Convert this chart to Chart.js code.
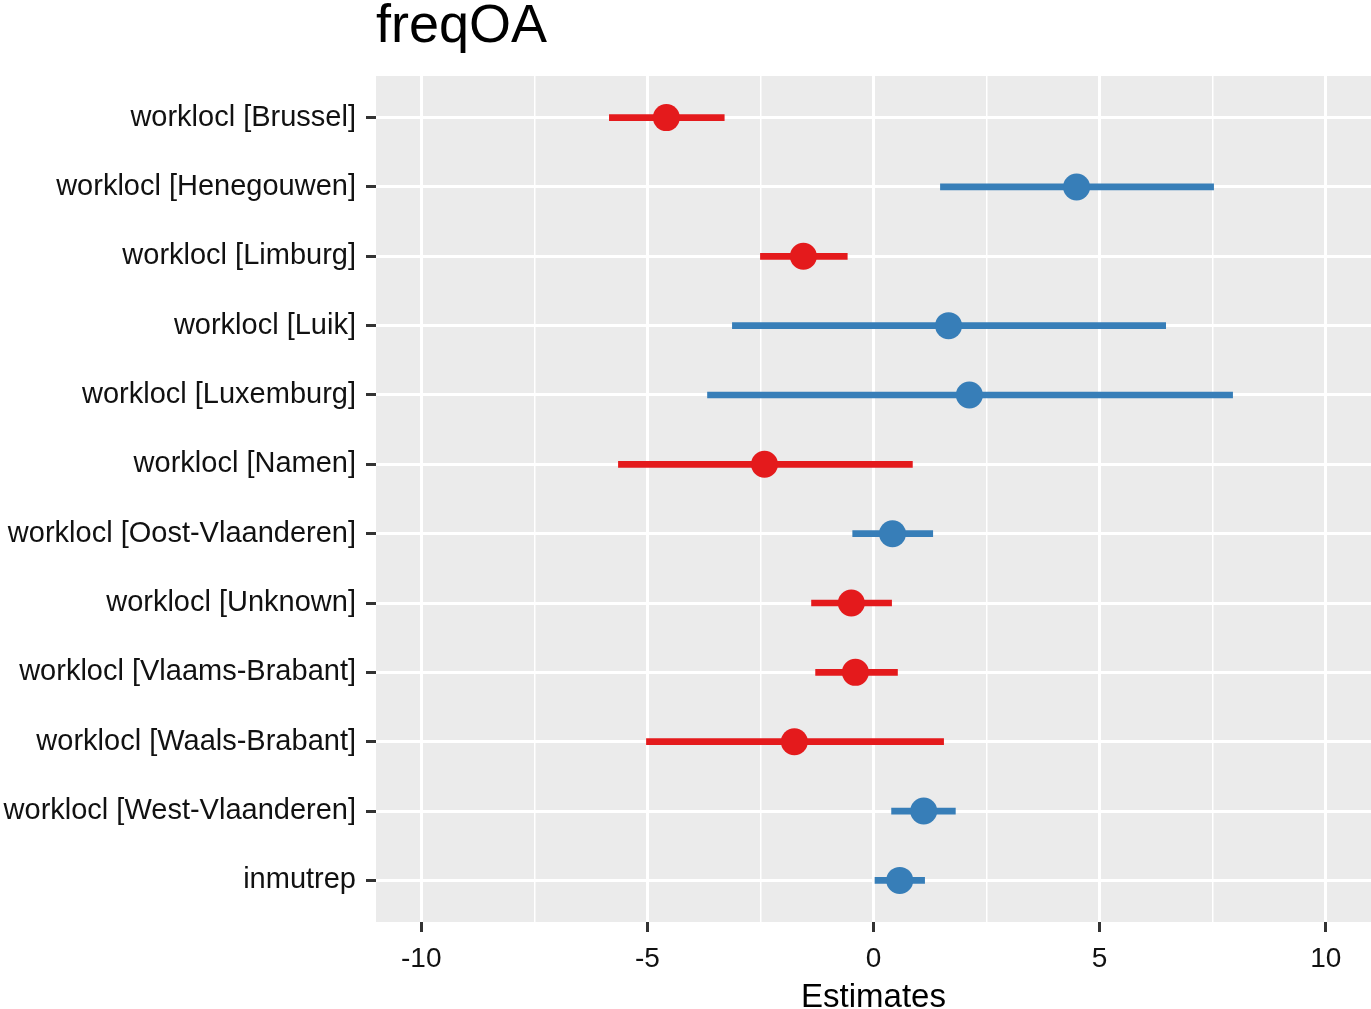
<!DOCTYPE html>
<html>
<head>
<meta charset="utf-8">
<title>freqOA</title>
<script src="https://cdn.jsdelivr.net/npm/chart.js@4.4.1/dist/chart.umd.min.js"></script>
<style>
  html, body { margin: 0; padding: 0; background: #fff; overflow: hidden; }
  #wrap { width: 1371px; height: 1009px; position: relative; }
</style>
</head>
<body>
<div id="wrap"><canvas id="forest"></canvas></div>
<script>
// coefficient estimates with confidence intervals
var categories = [
    "worklocl [Brussel]",
    "worklocl [Henegouwen]",
    "worklocl [Limburg]",
    "worklocl [Luik]",
    "worklocl [Luxemburg]",
    "worklocl [Namen]",
    "worklocl [Oost-Vlaanderen]",
    "worklocl [Unknown]",
    "worklocl [Vlaams-Brabant]",
    "worklocl [Waals-Brabant]",
    "worklocl [West-Vlaanderen]",
    "inmutrep"
];
var estimates = [-4.58, 4.49, -1.55, 1.66, 2.12, -2.41, 0.42, -0.49, -0.40, -1.75, 1.11, 0.58];
var ciLow     = [-5.84, 1.48, -2.50, -3.12, -3.67, -5.64, -0.46, -1.37, -1.28, -5.02, 0.40, 0.00];
var ciHigh    = [-3.30, 7.52, -0.58, 6.46, 7.94, 0.86, 1.31, 0.40, 0.53, 1.55, 1.81, 1.13];
var xMajorTicks = [-10, -5, 0, 5, 10];
var xMinorTicks = [-7.5, -2.5, 2.5, 7.5];

var ROJO = "#E41A1C";
var AZUL = "#377EB8";
var colores = estimates.map(function (v) { return v < 0 ? ROJO : AZUL; });

var barras = categories.map(function (c, i) { return { x: [ciLow[i], ciHigh[i]], y: i }; });
var puntos = categories.map(function (c, i) { return { x: estimates[i], y: i }; });
var xTicks = xMajorTicks.concat(xMinorTicks).sort(function (a, b) { return a - b; });

function esMayor(v) { return xMajorTicks.indexOf(v) !== -1; }

// fondo gris del panel y titulo
var panelPlugin = {
    id: 'panel',
    beforeDraw: function (chart) {
        var a = chart.chartArea, ctx = chart.ctx;
        ctx.save();
        ctx.fillStyle = '#EBEBEB';
        ctx.fillRect(a.left, a.top, a.right - a.left, a.bottom - a.top);
        ctx.restore();
    },
    afterDraw: function (chart) {
        var ctx = chart.ctx;
        ctx.save();
        ctx.fillStyle = '#000';
        ctx.font = '54px "Liberation Sans", Arial, sans-serif';
        ctx.textAlign = 'left';
        ctx.textBaseline = 'alphabetic';
        ctx.fillText('freqOA', chart.chartArea.left, 42);
        ctx.restore();
    }
};

var ctxF = document.getElementById('forest').getContext('2d');
var grafico = new Chart(ctxF, {
    type: 'bar',
    data: {
        datasets: [{
            type: 'bar',
            indexAxis: 'y',
            data: barras,
            backgroundColor: colores,
            borderWidth: 0,
            borderSkipped: false,
            barThickness: 6,
            order: 2
        }, {
            type: 'scatter',
            data: puntos,
            backgroundColor: colores,
            pointRadius: 13.5,
            pointHoverRadius: 13.5,
            pointBorderWidth: 0,
            showLine: false,
            order: 1
        }]
    },
    options: {
        indexAxis: 'y',
        responsive: true,
        maintainAspectRatio: false,
        animation: false,
        layout: { autoPadding: false, padding: { top: 76, left: 0, right: 0, bottom: 0 } },
        plugins: {
            legend: { display: false },
            tooltip: { enabled: false }
        },
        scales: {
            x: {
                type: 'linear',
                position: 'bottom',
                min: -11,
                max: 11,
                offset: false,
                afterBuildTicks: function (s) {
                    s.ticks = xTicks.map(function (v) { return { value: v }; });
                },
                afterFit: function (s) {
                    s.height = 87;
                    s.paddingLeft = 0;
                    s.paddingRight = 0;
                },
                ticks: {
                    autoSkip: false,
                    maxRotation: 0,
                    padding: 10,
                    color: '#111',
                    font: { family: '"Liberation Sans", Arial, sans-serif', size: 28 },
                    callback: function (v) { return esMayor(v) ? String(v) : ''; }
                },
                grid: {
                    offset: false,
                    color: '#FFFFFF',
                    lineWidth: function (c) { return c.tick && esMayor(c.tick.value) ? 3 : 1.5; },
                    drawTicks: true,
                    tickLength: 10,
                    tickWidth: 3,
                    tickColor: function (c) { return c.tick && esMayor(c.tick.value) ? '#333333' : 'rgba(0,0,0,0)'; }
                },
                border: { display: false },
                title: {
                    display: true,
                    text: 'Estimates',
                    color: '#000',
                    padding: { top: 0, bottom: 0 },
                    font: { family: '"Liberation Sans", Arial, sans-serif', size: 33, lineHeight: 0.65 }
                }
            },
            y: {
                type: 'linear',
                position: 'left',
                reverse: true,
                min: -0.6,
                max: 11.6,
                offset: false,
                afterBuildTicks: function (s) {
                    s.ticks = categories.map(function (c, i) { return { value: i }; });
                },
                afterFit: function (s) {
                    s.width = 376;
                    s.paddingTop = 0;
                    s.paddingBottom = 0;
                },
                ticks: {
                    autoSkip: false,
                    padding: 10,
                    color: '#111',
                    font: { family: '"Liberation Sans", Arial, sans-serif', size: 29 },
                    callback: function (v) { return categories[v]; }
                },
                grid: {
                    offset: false,
                    color: '#FFFFFF',
                    lineWidth: 3,
                    drawTicks: true,
                    tickLength: 10,
                    tickWidth: 3,
                    tickColor: '#333333'
                },
                border: { display: false }
            }
        }
    },
    plugins: [panelPlugin]
});
</script>
</body>
</html>
